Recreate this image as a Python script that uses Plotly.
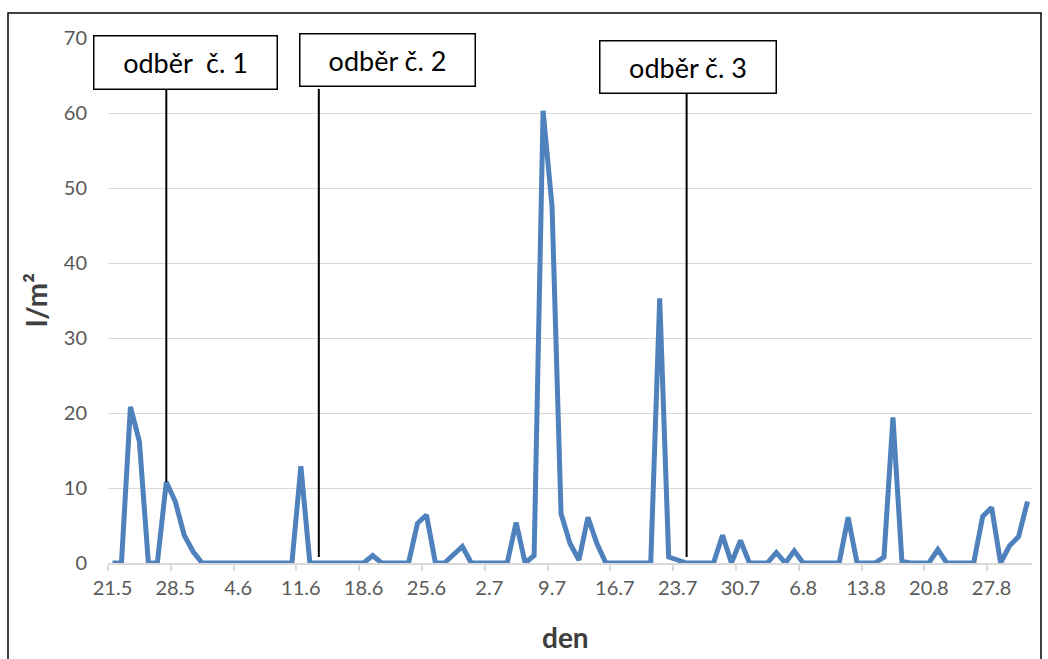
import plotly.graph_objects as go
import pandas as pd

# ---- data ----
start_date = "2000-05-21"
values = [0, 0, 20.8, 16.2, 0, 0, 10.8, 8.2, 3.7, 1.5,
          0, 0, 0, 0, 0, 0, 0, 0, 0, 0,
          0, 12.9, 0, 0, 0, 0, 0, 0, 0, 1.0,
          0, 0, 0, 0, 5.3, 6.4, 0, 0, 1.1, 2.2,
          0, 0, 0, 0, 0, 5.4, 0, 1.0, 60.3, 47.5,
          6.6, 2.6, 0.4, 6.1, 2.6, 0, 0, 0, 0, 0,
          0, 35.3, 0.8, 0.4, 0, 0, 0, 0, 3.7, 0,
          3.0, 0, 0, 0, 1.4, 0, 1.6, 0, 0, 0,
          0, 0, 6.1, 0, 0, 0, 0.8, 19.4, 0.2, 0,
          0, 0, 1.8, 0, 0, 0, 0, 6.2, 7.4, 0,
          2.3, 3.5, 8.2]
days = [f"{d.day}.{d.month}" for d in pd.date_range(start_date, periods=len(values), freq="D")]
tick_labels = ["21.5", "28.5", "4.6", "11.6", "18.6", "25.6", "2.7", "9.7",
               "16.7", "23.7", "30.7", "6.8", "13.8", "20.8", "27.8"]
tick_idx = [days.index(t) for t in tick_labels]
sample_labels = ["odběr  č. 1", "odběr č. 2", "odběr č. 3"]
sample_days = ["27.5", "13.6", "24.7"]
sample_idx = [days.index(s) for s in sample_days]
sample_line_bottom = [10.8, 0.8, 0.8]
sample_line_top = [63.2, 63.2, 62.6]

# ---- layout helpers ----
W, H = 1048, 659
L, R, T, B = 108, 1032, 38, 563
def px(x):
    return (x - L) / (R - L)
def py(y):
    return (B - y) / (B - T)

FONT = "Lato"
x = list(range(len(values)))

fig = go.Figure()
fig.add_trace(go.Scatter(x=x, y=values, mode="lines",
                         line=dict(color="#4f81bd", width=5),
                         hoverinfo="skip", showlegend=False))

for i, idx in enumerate(sample_idx):
    fig.add_shape(type="line", xref="x", yref="y", x0=idx, x1=idx,
                  y0=sample_line_bottom[i], y1=sample_line_top[i],
                  line=dict(color="black", width=2))

boxes = [(93, 277, 35, 89), (299, 475, 34, 87), (599, 776, 40, 93)]
for (x0, x1, y0, y1), lab in zip(boxes, sample_labels):
    fig.add_annotation(xref="paper", yref="paper",
                       x=px((x0 + x1) / 2), y=py((y0 + y1) / 2),
                       xanchor="center", yanchor="middle",
                       text=lab, showarrow=False,
                       width=x1 - x0 - 2, height=y1 - y0 - 2,
                       bgcolor="white", bordercolor="black", borderwidth=1.5, borderpad=0,
                       font=dict(family=FONT, size=27, color="black"))

# axis titles
fig.add_annotation(xref="paper", yref="paper", x=px(565), y=py(637),
                   text="<b>den</b>", showarrow=False, xanchor="center", yanchor="middle",
                   font=dict(family=FONT, size=28, color="#404040"))
fig.add_annotation(xref="paper", yref="paper", x=px(35), y=py(300),
                   text="<b>l/m²</b>", showarrow=False, textangle=-90,
                   xanchor="center", yanchor="middle",
                   font=dict(family=FONT, size=29, color="#404040"))

# outer frame
fig.add_shape(type="rect", xref="paper", yref="paper",
              x0=px(8), x1=px(1041), y0=py(680), y1=py(13),
              line=dict(color="black", width=1.5), fillcolor="rgba(0,0,0,0)", layer="below")

fig.update_layout(
    width=W, height=H,
    margin=dict(l=L, r=W - R, t=T, b=H - B),
    paper_bgcolor="white", plot_bgcolor="white",
    font=dict(family=FONT, size=20, color="#595959"),
    xaxis=dict(range=[-0.5, len(values) - 0.5], tickmode="array",
               tickvals=tick_idx, ticktext=tick_labels, ticks="",
               showgrid=False, zeroline=False, showline=True,
               linecolor="#d9d9d9", linewidth=1.5,
               ticklabelstandoff=6,
               tickfont=dict(family=FONT, size=20, color="#595959"),
               minor=dict(tick0=-0.5, dtick=7, ticks="outside", ticklen=6,
                          tickcolor="#d9d9d9", tickwidth=1.5, showgrid=False)),
    yaxis=dict(range=[0, 70], dtick=10, ticks="", showgrid=True,
               gridcolor="#d9d9d9", gridwidth=1.2, zeroline=False, showline=False,
               ticklabelstandoff=20,
               tickfont=dict(family=FONT, size=20, color="#595959")),
)

fig.write_html("out.html")
